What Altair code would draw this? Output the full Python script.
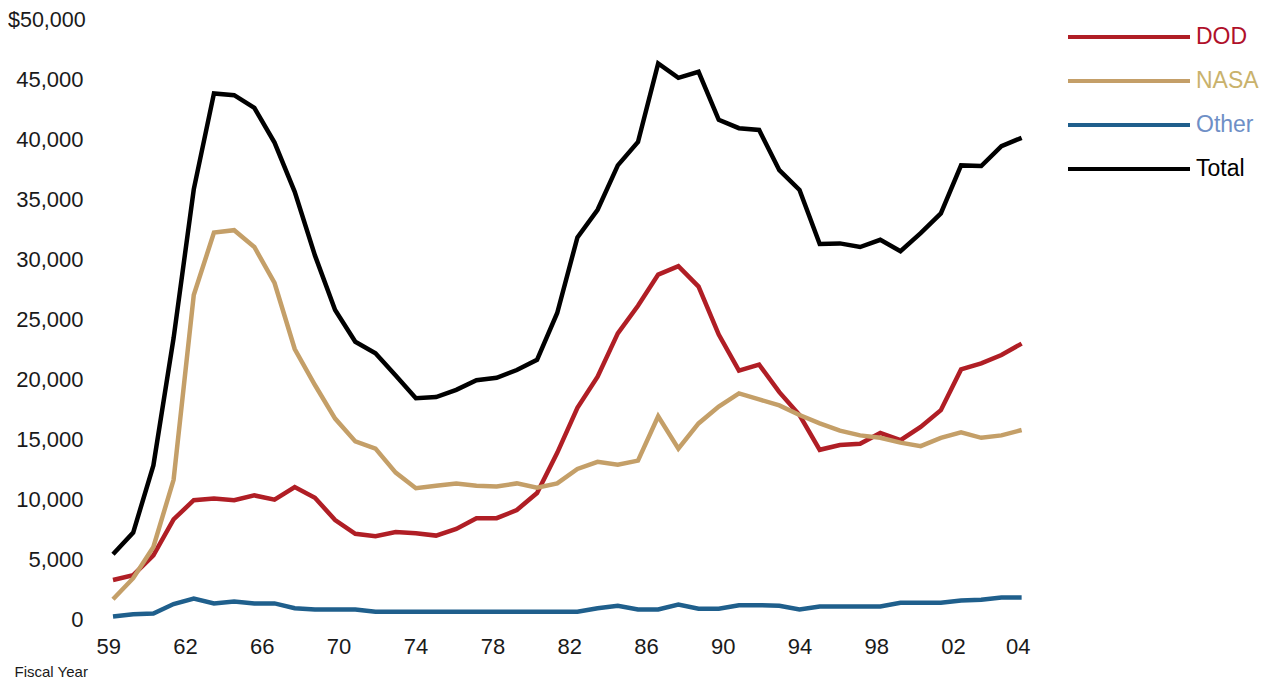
import altair as alt
import pandas as pd

years = list(range(1959, 2005))

dod = [3250, 3650, 5300, 8300, 9900, 10050, 9900, 10300, 9950, 11000,
       10100, 8250, 7100, 6900, 7250, 7150, 6950, 7500, 8390, 8400,
       9080, 10500, 13850, 17600, 20200, 23800, 26100, 28700, 29400, 27700,
       23700, 20700, 21200, 18900, 17000, 14100, 14500, 14600, 15500, 14900,
       16000, 17400, 20800, 21300, 22000, 22950]

nasa = [1650, 3400, 6000, 11600, 27000, 32200, 32400, 31000, 28000, 22500,
        19500, 16700, 14800, 14200, 12200, 10900, 11100, 11300, 11100, 11050,
        11300, 10950, 11300, 12500, 13100, 12850, 13200, 16900, 14200, 16300,
        17700, 18800, 18300, 17800, 17000, 16300, 15700, 15300, 15100, 14700,
        14400, 15100, 15550, 15100, 15300, 15750]

other = [200, 400, 450, 1250, 1700, 1300, 1450, 1300, 1300, 900,
         800, 800, 800, 600, 600, 600, 600, 600, 600, 600,
         600, 600, 600, 600, 900, 1100, 800, 800, 1200, 850,
         850, 1150, 1150, 1100, 800, 1050, 1050, 1050, 1050, 1350,
         1350, 1350, 1550, 1600, 1800, 1800]

total = [5400, 7200, 12800, 23400, 35800, 43800, 43650, 42600, 39700, 35600,
         30300, 25750, 23100, 22150, 20300, 18400, 18500, 19100, 19900, 20100,
         20750, 21600, 25500, 31800, 34100, 37800, 39750, 46300, 45100, 45600,
         41600, 40900, 40750, 37400, 35750, 31250, 31300, 31000, 31600, 30650,
         32150, 33800, 37800, 37750, 39400, 40100]

series_names = ["DOD", "NASA", "Other", "Total"]
line_colors = ["#b01e25", "#c49f68", "#1f5f8c", "#000000"]
label_colors = ["#b0102a", "#c9b26c", "#6f8fc6", "#000000"]

tick_pos = [1958.77, 1962.57, 1966.37, 1970.17, 1973.98, 1977.79, 1981.59,
            1985.40, 1989.20, 1993.00, 1996.80, 2000.60, 2003.81]
tick_labels = ["59", "62", "66", "70", "74", "78", "82", "86", "90", "94",
               "98", "02", "04"]
y_ticks = [0, 5000, 10000, 15000, 20000, 25000, 30000, 35000, 40000, 45000, 50000]
top_label = "$50,000"
top_value = 50000

rows = []
for name, vals in zip(series_names, [dod, nasa, other, total]):
    for yr, v in zip(years, vals):
        rows.append({"year": yr, "value": v, "series": name})
df = pd.DataFrame(rows)

pos_js = "[" + ",".join(str(p) for p in tick_pos) + "]"
lab_js = "[" + ",".join("'" + s + "'" for s in tick_labels) + "]"
x_label_expr = f"{lab_js}[indexof({pos_js}, datum.value)]"

label_color_expr = " : ".join(
    f"datum.label == '{n}' ? '{c}'" for n, c in zip(series_names[:-1], label_colors[:-1])
) + f" : '{label_colors[-1]}'"

FONT = "Liberation Sans"

x_enc = alt.X(
    "year:Q",
    scale=alt.Scale(domain=[1958.356, 2004.91], nice=False, zero=False),
    axis=alt.Axis(
        values=tick_pos,
        labelExpr=x_label_expr,
        title="Fiscal Year",
        titleFont=FONT,
        titleFontSize=15,
        titleFontWeight="normal",
        titleColor="#1a1a1a",
        titleAnchor="start",
        titleAlign="left",
        titleBaseline="top",
        titleX=-86,
        titleY=45,
        labelFont=FONT,
        labelFontSize=22,
        labelColor="#1a1a1a",
        labelPadding=17,
        labelFlush=False,
        labelOverlap=False,
        ticks=False,
        tickSize=0,
        domain=False,
        grid=False,
    ),
)

y_scale = alt.Scale(domain=[0, 50000], nice=False)

lines = alt.Chart(df).mark_line(strokeWidth=4.5, strokeJoin="miter").encode(
    x=x_enc,
    y=alt.Y(
        "value:Q",
        scale=y_scale,
        axis=alt.Axis(
            values=y_ticks,
            format=",.0f",
            labelExpr=f"datum.value == {top_value} ? '' : datum.label",
            title=None,
            labelFont=FONT,
            labelFontSize=22,
            labelColor="#1a1a1a",
            labelPadding=17,
            labelFlush=False,
            labelOverlap=False,
            ticks=False,
            tickSize=0,
            domain=False,
            grid=False,
        ),
    ),
    color=alt.Color(
        "series:N",
        scale=alt.Scale(domain=series_names, range=line_colors),
        legend=alt.Legend(
            title=None,
            orient="none",
            legendX=966,
            legendY=6,
            direction="vertical",
            symbolType="stroke",
            symbolSize=14884,
            symbolStrokeWidth=4,
            clipHeight=24,
            rowPadding=20,
            labelOffset=4,
            labelFont=FONT,
            labelFontSize=23,
            labelColor={"expr": label_color_expr},
            padding=0,
        ),
    ),
)

top_text = alt.Chart(pd.DataFrame({"label": [top_label], "value": [top_value]})).mark_text(
    font=FONT, fontSize=21.5, color="#1a1a1a", align="left", baseline="middle", dy=1.5
).encode(
    x=alt.value(-92),
    y=alt.Y("value:Q", scale=y_scale),
    text="label:N",
)

chart = alt.layer(lines, top_text).properties(
    width=940,
    height=600,
    autosize=alt.AutoSizeParams(type="none"),
    padding={"left": 92, "top": 11, "right": 220, "bottom": 60},
).configure(background="white").configure_view(stroke=None, strokeWidth=0)

chart.save("out.html", embed_options={"renderer": "svg", "actions": False})
